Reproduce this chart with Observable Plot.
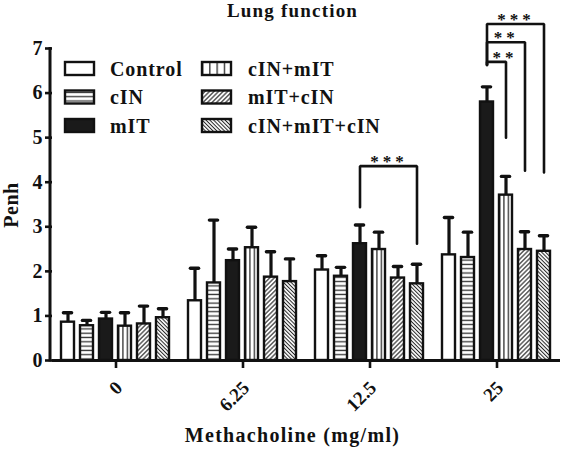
<!DOCTYPE html>
<html><head><meta charset="utf-8">
<script src="https://cdn.jsdelivr.net/npm/d3@7"></script>
<script src="https://cdn.jsdelivr.net/npm/@observablehq/plot@0.6"></script>
<style>
body{margin:0;background:#fff;}
#chart{position:relative;width:566px;height:449px;}
</style></head><body><div id="chart"></div>
<script>
// ---- data ----
const doses = ["0", "6.25", "12.5", "25"];
const series = ["Control", "cIN", "mIT", "cIN+mIT", "mIT+cIN", "cIN+mIT+cIN"];
// mean Penh per dose (order = series)
const mean0    = [0.86, 0.78, 0.93, 0.77, 0.82, 0.96];
const mean625  = [1.34, 1.74, 2.24, 2.53, 1.87, 1.77];
const mean125  = [2.03, 1.89, 2.62, 2.49, 1.85, 1.72];
const mean25   = [2.37, 2.31, 5.80, 3.71, 2.49, 2.45];
// error (upper SEM) per dose
const err0     = [0.21, 0.12, 0.15, 0.30, 0.40, 0.20];
const err625   = [0.73, 1.41, 0.26, 0.46, 0.57, 0.51];
const err125   = [0.32, 0.20, 0.42, 0.39, 0.26, 0.44];
const err25    = [0.84, 0.57, 0.34, 0.42, 0.40, 0.35];
const yTicks = [0, 1, 2, 3, 4, 5, 6, 7];
// significance brackets
const bracketDose  = ["12.5", "25", "25", "25"];
const bracketFrom  = ["mIT", "mIT", "mIT", "mIT"];
const bracketTo    = ["cIN+mIT+cIN", "cIN+mIT", "mIT+cIN", "cIN+mIT+cIN"];
const bracketTop   = [4.36, 6.70, 7.14, 7.55];
const bracketLeft  = [3.44, 6.63, 6.63, 6.63];
const bracketRight = [2.62, 5.00, 4.26, 4.22];
const bracketLabel = ["***", "**", "**", "***"];

const fillBySeries = ["#fff", "url(#pat-h)", "#1a1a1a", "url(#pat-v)", "url(#pat-d1)", "url(#pat-d2)"];
const legendFill   = ["#fff", "url(#pat-h)", "#1a1a1a", "url(#pat-vl)", "url(#pat-d1)", "url(#pat-d2)"];

// ---- build tables ----
const means = [mean0, mean625, mean125, mean25];
const errs = [err0, err625, err125, err25];
const rows = [];
doses.forEach((d, gi) => series.forEach((s, si) =>
  rows.push({dose: d, series: s, value: means[gi][si], upper: means[gi][si] + errs[gi][si]})));

const bracketPts = [];
const bracketRows = [];
bracketDose.forEach((d, i) => {
  bracketPts.push({id: i, dose: d, series: bracketFrom[i], y: bracketLeft[i]});
  bracketPts.push({id: i, dose: d, series: bracketFrom[i], y: bracketTop[i]});
  bracketPts.push({id: i, dose: d, series: bracketTo[i], y: bracketTop[i]});
  bracketPts.push({id: i, dose: d, series: bracketTo[i], y: bracketRight[i]});
  bracketRows.push({dose: d, from: bracketFrom[i], to: bracketTo[i], top: bracketTop[i], label: bracketLabel[i]});
});

const W = 566, H = 449, ML = 50, MR = 5, MT = 48, MB = 89;
const padIn = 0.3, padOut = 0.45;
const facetW = (W - ML - MR) / doses.length;
const step = facetW / (series.length - padIn + 2 * padOut);

// star label centred on the bracket, but kept clear of the bracket's left leg
const starMarks = bracketRows.map(b => {
  const mid = (series.indexOf(b.to) - series.indexOf(b.from)) / 2 * step;
  const clear = b.label.length * 6 + 6;
  return Plot.text([b], {
    fx: "dose", x: "from", y: "top", text: "label",
    dx: Math.max(mid, clear), dy: 1,
    lineAnchor: "bottom", textAnchor: "middle", fontSize: 17, fill: "#111"
  });
});

const font = "'Liberation Serif', 'Times New Roman', serif";

const chart = Plot.plot({
  width: W, height: H,
  marginLeft: ML, marginRight: MR, marginTop: MT, marginBottom: MB,
  style: {fontFamily: font, fontWeight: "bold", background: "#fff", color: "#111"},
  fx: {domain: doses, padding: 0, axis: null, label: null},
  x: {domain: series, paddingInner: padIn, paddingOuter: padOut, axis: null},
  y: {domain: [0, 7], axis: null},
  color: {domain: series, range: fillBySeries, type: "ordinal"},
  marks: [
    Plot.barY(rows, {fx: "dose", x: "series", y: "value", fill: "series", stroke: "#111", strokeWidth: 2.4}),
    Plot.ruleX(rows, {fx: "dose", x: "series", y1: "value", y2: "upper", stroke: "#111", strokeWidth: 3.2}),
    Plot.tickY(rows, {fx: "dose", x: "series", y: "upper", stroke: "#111", strokeWidth: 3.4, insetLeft: 2.4, insetRight: 2.4, strokeLinecap: "round"}),
    Plot.ruleY([0], {stroke: "#111", strokeWidth: 3}),
    Plot.axisY({ticks: yTicks, tickSize: 7, tickPadding: 2, fontSize: 20, strokeWidth: 2.6, stroke: "#111", tickFormat: d => String(d), label: null}),
    Plot.axisFx({anchor: "bottom", tickSize: 8, tickFormat: () => "", strokeWidth: 2.6, stroke: "#111", label: null}),
    Plot.line(bracketPts, {fx: "dose", x: "series", y: "y", z: "id", stroke: "#111", strokeWidth: 2.6, strokeLinejoin: "miter"}),
    ...starMarks
  ]
});

document.getElementById("chart").appendChild(chart);

// ---- patterns, axis line, title, labels, legend ----
const svg = d3.select(chart.tagName === "svg" ? chart : chart.querySelector("svg"));
const defs = svg.insert("defs", ":first-child");
function pat(id, attrs, draw) {
  const p = defs.append("pattern").attr("id", id);
  Object.entries(attrs).forEach(([k, v]) => p.attr(k, v));
  draw(p);
}
pat("pat-h", {patternUnits: "userSpaceOnUse", width: 8, height: 4.3}, p => {
  p.append("rect").attr("width", 8).attr("height", 4.3).attr("fill", "#fff");
  p.append("line").attr("x1", 0).attr("x2", 8).attr("y1", 2.1).attr("y2", 2.1).attr("stroke", "#333").attr("stroke-width", 1.3);
});
pat("pat-v", {patternUnits: "objectBoundingBox", width: 1/3, height: 1}, p => {
  p.append("rect").attr("width", 100).attr("height", 2000).attr("fill", "#fff");
  p.append("line").attr("x1", 0.6).attr("x2", 0.6).attr("y1", 0).attr("y2", 2000).attr("stroke", "#222").attr("stroke-width", 1.3);
});
pat("pat-vl", {patternUnits: "objectBoundingBox", width: 0.25, height: 1}, p => {
  p.append("rect").attr("width", 100).attr("height", 2000).attr("fill", "#fff");
  p.append("line").attr("x1", 0.6).attr("x2", 0.6).attr("y1", 0).attr("y2", 2000).attr("stroke", "#222").attr("stroke-width", 1.3);
});
pat("pat-d1", {patternUnits: "userSpaceOnUse", width: 3.2, height: 10, patternTransform: "rotate(45)"}, p => {
  p.append("rect").attr("width", 3.2).attr("height", 10).attr("fill", "#fff");
  p.append("line").attr("x1", 1.6).attr("x2", 1.6).attr("y1", 0).attr("y2", 10).attr("stroke", "#222").attr("stroke-width", 1.1);
});
pat("pat-d2", {patternUnits: "userSpaceOnUse", width: 2.7, height: 10, patternTransform: "rotate(-45)"}, p => {
  p.append("rect").attr("width", 2.7).attr("height", 10).attr("fill", "#fff");
  p.append("line").attr("x1", 1.35).attr("x2", 1.35).attr("y1", 0).attr("y2", 10).attr("stroke", "#222").attr("stroke-width", 1.0);
});

svg.selectAll("text").style("letter-spacing", "1px");
svg.selectAll("text").filter(function() { return /^\*+$/.test(this.textContent); }).style("letter-spacing", "4px");

// y axis domain line, from the plot's own y scale
const yS = chart.scale("y");
svg.append("line").attr("x1", ML).attr("x2", ML)
  .attr("y1", yS.apply(0) + 1.5).attr("y2", yS.apply(7) - 1)
  .attr("stroke", "#111").attr("stroke-width", 3);

const g = svg.append("g").attr("font-family", font).attr("font-weight", "bold").attr("fill", "#111");

// rotated dose tick labels, placed with the plot's own fx scale
const fxS = chart.scale("fx");
doses.forEach(d => {
  const cx = fxS.apply(d) + fxS.bandwidth / 2;
  g.append("text").attr("transform", `translate(${cx + 8},${yS.apply(0) + 29}) rotate(-45)`)
    .attr("text-anchor", "end").attr("font-size", 19).text(d);
});

g.append("text").attr("x", 292.5).attr("y", 17).attr("text-anchor", "middle")
  .attr("font-size", 19).style("letter-spacing", "1.2px").text("Lung function");
g.append("text").attr("x", 292.5).attr("y", 442).attr("text-anchor", "middle")
  .attr("font-size", 20).style("letter-spacing", "1.3px").text("Methacholine (mg/ml)");
g.append("text").attr("transform", "translate(18,205) rotate(-90)").attr("text-anchor", "middle")
  .attr("font-size", 20).style("letter-spacing", "0.5px").text("Penh");

const legCols = [{sx: 65, tx: 110}, {sx: 202, tx: 248}];
const legRows = [68.5, 97, 125.5];
series.forEach((s, i) => {
  const c = legCols[Math.floor(i / 3)], yc = legRows[i % 3];
  g.append("rect").attr("x", c.sx).attr("y", yc - 6.5).attr("width", 29).attr("height", 13)
    .attr("fill", legendFill[i]).attr("stroke", "#111").attr("stroke-width", 2.4);
  g.append("text").attr("x", c.tx).attr("y", yc + 7).attr("font-size", 20).attr("text-anchor", "start")
    .style("letter-spacing", "0.9px").text(s);
});
</script></body></html>
